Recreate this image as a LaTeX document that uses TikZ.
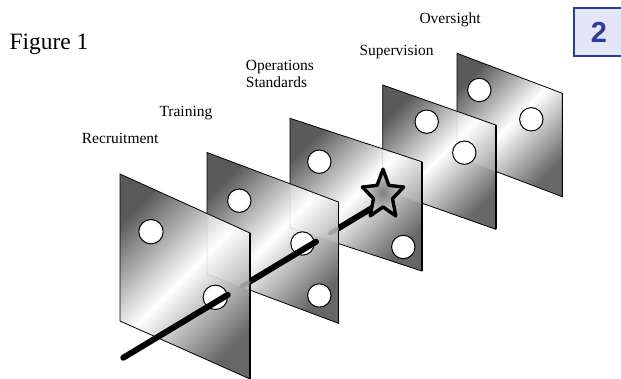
\documentclass[tikz,border=0pt]{standalone}
\usepackage{fontspec}
\setmainfont{Liberation Serif}
\newfontfamily\badgefont{Liberation Sans}
\usetikzlibrary{calc}

\definecolor{badgeblue}{HTML}{2C3B9E}
\definecolor{badgefill}{HTML}{E5E6F5}
\definecolor{platedark}{HTML}{5A5A5A}
\definecolor{platedarkb}{HTML}{676767}
\definecolor{starcore}{HTML}{808080}
\definecolor{staredge}{HTML}{D0D0D0}

\tikzset{
  platefill/.style={top color=platedark, bottom color=platedarkb, middle color=white, shading angle=45},
  plateline/.style={draw=black, line width=0.8pt, line join=miter},
  plateside/.style={draw=black, line width=1.6pt},
  hole/.style={circle, draw=black, fill=white, line width=1pt, inner sep=0pt, minimum size=23.4pt},
  ghost/.style={draw=black!30, line width=0.6pt, densely dotted},
  rod/.style={line width=6pt, line cap=round, black},
  rodghost/.style={line width=4.5pt, line cap=round, black!45, opacity=0.6},
  starshape/.style={draw=black, line width=3.4pt, line join=round, inner color=starcore, outer color=staredge},
  label/.style={anchor=base west, inner sep=0pt, font=\fontsize{15.5}{16.3}\selectfont},
}

% shaded face of a plate given by its corner coordinates <name>a..d
\newcommand\plate[1]{%
  \shade[platefill] (#1a) -- (#1b) -- (#1c) -- (#1d) -- cycle;}
% outline of a plate, with a heavier right edge
\newcommand\plateoutline[1]{%
  \draw[plateline] (#1a) -- (#1b) -- (#1c) -- (#1d) -- cycle;
  \draw[plateside] (#1b) -- (#1c);}
% faint edges of plate #2 showing through plate #1
\newcommand\ghostof[2]{%
  \begin{scope}
    \clip (#1a) -- (#1b) -- (#1c) -- (#1d) -- cycle;
    \fill[white, opacity=0.18] (#2a) -- (#2b) -- (#2c) -- (#2d) -- cycle;
    \draw[ghost] (#2a) -- (#2d) -- (#2c);
  \end{scope}}

\begin{document}
\begin{tikzpicture}[x=1pt, y=-1pt]
\useasboundingbox (0,0) rectangle (621,379);

% plate corners: a top left, b top right, c bottom right, d bottom left
\coordinate (p1a) at (120,174);   \coordinate (p1b) at (250,233);
\coordinate (p1c) at (250,379);   \coordinate (p1d) at (120,321);
\coordinate (p2a) at (207,152.5); \coordinate (p2b) at (338.5,202);
\coordinate (p2c) at (338.5,323.3); \coordinate (p2d) at (207,274);
\coordinate (p3a) at (290,118.3); \coordinate (p3b) at (421.7,161.7);
\coordinate (p3c) at (421.7,271); \coordinate (p3d) at (290,227.6);
\coordinate (p4a) at (382.7,85);  \coordinate (p4b) at (495.7,125);
\coordinate (p4c) at (495.7,229.3); \coordinate (p4d) at (382.7,189.3);
\coordinate (p5a) at (457,53.3);  \coordinate (p5b) at (562.3,93.3);
\coordinate (p5c) at (562.3,196.7); \coordinate (p5d) at (457,156.7);

% rod axis
\coordinate (rodS) at (123.3,357.7);
\coordinate (rodE) at (372,208);

% Oversight plate
\plate{p5}
\node[hole] (h51) at (479.3,90) {};
\node[hole] (h52) at (531.3,119.3) {};
\plateoutline{p5}

% Supervision plate
\plate{p4}
\ghostof{p4}{p5}
\node[hole] (h41) at (426.7,121.7) {};
\node[hole] (h42) at (464.3,152.7) {};
\plateoutline{p4}

% Operations Standards plate
\plate{p3}
\ghostof{p3}{p4}
\node[hole] (h31) at (319.3,161.7) {};
\node[hole] (h32) at (403.3,247) {};
\plateoutline{p3}

% rod behind the training plate, ending at the star
\draw[rod] ($(rodS)!0.74!(rodE)$) -- ($(rodS)!1.04!(rodE)$);
\begin{scope}[shift={(383,195)}, yscale=1.19]
  \shadedraw[starshape] (-90:21.7) -- (-54:10) -- (-18:21.7) -- (18:10) -- (54:21.7)
    -- (90:10) -- (126:21.7) -- (162:10) -- (198:21.7) -- (234:10) -- cycle;
\end{scope}

% Training plate
\plate{p2}
\ghostof{p2}{p3}
\node[hole] (h21) at (239.3,200.7) {};
\node[hole] (h22) at (302.5,243.5) {};
\node[hole] (h23) at (319.3,295.5) {};
\plateoutline{p2}

% rod between the first two plates
\draw[rod] ($(rodS)!0.40!(rodE)$) -- ($(rodS)!0.775!(rodE)$);

% Recruitment plate
\plate{p1}
\ghostof{p1}{p2}
\node[hole, minimum size=24.4pt] (h11) at (151,231.7) {};
\node[hole, minimum size=24.4pt] (h12) at (215.3,297.3) {};
\plateoutline{p1}

% rod in front
\draw[rod] (rodS) -- ($(rodS)!0.42!(rodE)$);
\draw[rodghost] ($(rodS)!0.477!(rodE)$) -- ($(rodS)!0.503!(rodE)$);
\draw[rodghost] ($(rodS)!0.833!(rodE)$) -- ($(rodS)!0.859!(rodE)$);

% labels
\node[label, font=\fontsize{23.5}{28}\selectfont] (lblFig) at (9.3,49.3) {Figure 1};
\node[label] (lblRec) at (81.7,144) {Recruitment};
\node[label] (lblTrain) at (159.3,116.7) {Training};
\node[label] (lblOps) at (245.7,71) {Operations};
\node[label] (lblStd) at (245.7,87.3) {Standards};
\node[label] (lblSup) at (359.3,55.7) {Supervision};
\node[label] (lblOver) at (419.3,23.3) {Oversight};

% page badge
\node[draw=badgeblue, fill=badgefill, line width=2pt, minimum width=49.4pt,
      minimum height=47.7pt, inner sep=0pt, text=badgeblue,
      font=\badgefont\bfseries\fontsize{29}{29}\selectfont] (badge) at (599,32.2) {2};
\end{tikzpicture}
\end{document}
